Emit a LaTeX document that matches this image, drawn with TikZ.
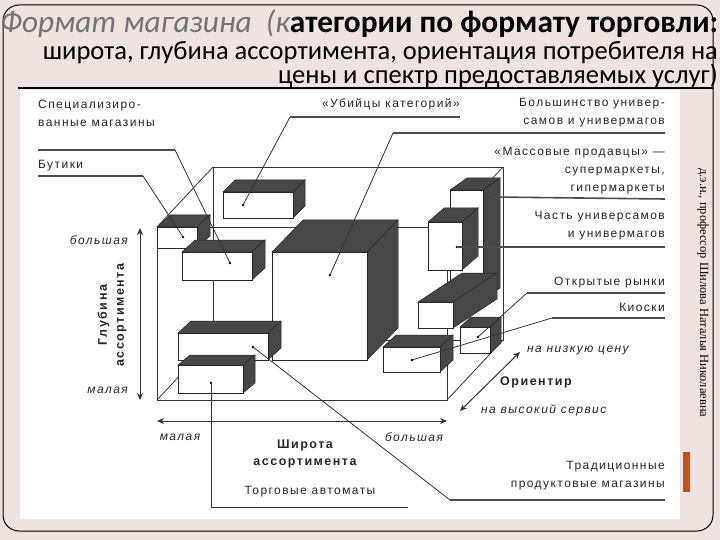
\documentclass[tikz,border=0pt]{standalone}
\usepackage{fontspec}
\usepackage{graphicx}
\setmainfont{Liberation Sans}
\newfontfamily\hdr{Carlito}
\newfontfamily\srf{Liberation Serif}
\newfontfamily\lab[LetterSpace=12]{Liberation Sans}
\usetikzlibrary{arrows.meta}
\definecolor{pinkbg}{HTML}{EEE3E1}
\definecolor{bar}{HTML}{C9521B}
\tikzset{
  lbl/.style={font=\lab\fontsize{12}{18}\selectfont, text=black!85, inner sep=0pt},
  axl/.style={font=\lab\fontsize{12}{18}\selectfont\itshape, text=black!85, inner sep=0pt},
  bld/.style={font=\lab\fontsize{12.5}{17}\selectfont\bfseries, text=black!85, inner sep=0pt, align=center},
  lead/.style={draw=black!80, line width=0.8pt},
  ulin/.style={draw=black!70, line width=1.6pt},
  wire/.style={draw=black!80, line width=0.8pt},
  axis/.style={draw=black!80, line width=1pt, {Stealth[length=7pt,width=6pt]}-{Stealth[length=7pt,width=6pt]}},
  darkf/.style={fill=black!72, draw=black!85, line width=0.5pt},
  frontf/.style={fill=white, draw=black!85, line width=0.8pt},
}
% cube: x1 y1 x2 y2 dx dy (pixel coords, offset up-right)
\newcommand\cub[6]{%
  \path[darkf] (#1,#2) -- (#1+#5,#2-#6) -- (#3+#5,#2-#6) -- (#3,#2) -- cycle;
  \path[darkf] (#3,#2) -- (#3+#5,#2-#6) -- (#3+#5,#4-#6) -- (#3,#4) -- cycle;
  \path[frontf] (#1,#2) rectangle (#3,#4);
}
\begin{document}
\begin{tikzpicture}[x=1pt,y=-1pt]
\useasboundingbox (0,0) rectangle (720,540);
\fill[pinkbg] (0,0) rectangle (720,540);
\draw[black, line width=1pt, rounded corners=16pt] (3,5) rectangle (713,531);
\fill[white] (20,90) rectangle (680,519);
\draw[black, line width=1.2pt] (18,88) -- (713,88);
\fill[bar] (683,452) rectangle (690,492);
% header
\node[anchor=base west, inner sep=0pt] (t1) at (0,33) {\resizebox{718pt}{!}{\hdr\fontsize{30}{32}\selectfont\textcolor{black!55}{\itshape Формат магазина\ \ (к}\textbf{атегории по формату торговли:}}};
\node[anchor=base east, inner sep=0pt] (t2) at (718,60) {\hdr\fontsize{26.5}{30}\selectfont широта, глубина ассортимента, ориентация потребителя на};
\node[anchor=base east, inner sep=0pt] (t3) at (718,84) {\hdr\fontsize{26.5}{30}\selectfont цены и спектр предоставляемых услуг)};
\node[rotate=-90, anchor=west, inner sep=0pt] (auth) at (703,168) {\srf\fontsize{12.5}{14}\selectfont д.э.н., профессор Шилова Наталья Николаевна};
% wireframe
\draw[wire] (213,167) rectangle (503,340);
\draw[wire] (157,227) -- (213,167) (447,227) -- (503,167) (447,400) -- (503,340) (157,400) -- (213,340);
\draw[wire] (157,227) rectangle (447,400);
% cubes
\cub{223}{192}{293}{218}{12}{12}
\cub{157}{227}{197}{248}{13}{12}
\cub{182}{252}{252}{280}{13}{12}
\cub{272}{252}{367}{360}{31}{32}
\cub{178}{333}{268}{360}{13}{12}
\cub{178}{365}{243}{393}{12}{10}
\cub{450}{190}{483}{300}{17}{12}
\cub{418}{302}{453}{328}{44}{29}
\cub{428}{222}{462}{270}{16}{14}
\cub{460}{327}{490}{353}{11}{10}
\cub{383}{347}{440}{372}{13}{12}
% dots
\coordinate (d1) at (243,205);
\coordinate (d2) at (183,237);
\coordinate (d3) at (230,263);
\coordinate (d4) at (330,275);
\coordinate (d5) at (253,347);
\coordinate (d6) at (211,383);
\coordinate (d7) at (457,247);
\coordinate (d8) at (478,337);
\coordinate (d9) at (412,360);
\coordinate (d10) at (493,197);
\foreach \q in {d1,d2,d3,d4,d5,d6,d7,d8,d9} {\fill[black] (\q) circle (1.4pt);}
% labels
\node[lbl, anchor=north west, align=left] (spec) at (38,100) {Специализиро-\\ванные магазины};
\coordinate (sp) at (175,150); \coordinate (sp0) at (38,150);
\draw[ulin] (sp0) -- (sp);
\draw[lead] (sp) -- (d3);
\node[lbl, anchor=north west] (but) at (38,160) {Бутики};
\coordinate (bu) at (143,176); \coordinate (bu0) at (38,176);
\draw[ulin] (bu0) -- (bu);
\draw[lead] (bu) -- (d2);
\node[lbl, anchor=north east] (kil) at (460,98) {«Убийцы категорий»};
\coordinate (ki) at (290,117); \coordinate (ki0) at (460,117);
\draw[ulin] (ki) -- (ki0);
\draw[lead] (ki) -- (d1);
\node[lbl, anchor=north east, align=right] (maj) at (665,98) {Большинство универ-\\самов и универмагов};
\coordinate (mj) at (393,133); \coordinate (mj0) at (665,133);
\draw[ulin] (mj) -- (mj0);
\draw[lead] (mj) -- (d4);
\node[lbl, anchor=north east, align=right] (mass) at (665,147) {«Массовые продавцы» —\\супермаркеты,\\гипермаркеты};
\coordinate (ma0) at (665,199);
\draw[ulin] (d10) -- (ma0);
\node[lbl, anchor=north east, align=right] (part) at (665,211) {Часть универсамов\\и универмагов};
\coordinate (pa0) at (665,247);
\draw[ulin] (d7) -- (pa0);
\node[lbl, anchor=north east] (open) at (665,277) {Открытые рынки};
\coordinate (op) at (527,293); \coordinate (op0) at (665,293);
\draw[ulin] (op) -- (op0);
\draw[lead] (op) -- (d8);
\node[lbl, anchor=north east] (kio) at (665,303) {Киоски};
\coordinate (ko) at (552,318); \coordinate (ko0) at (665,318);
\draw[ulin] (ko) -- (ko0);
\draw[lead] (ko) -- (d9);
\node[lbl, anchor=north east, align=right] (trad) at (665,461) {Традиционные\\продуктовые магазины};
\coordinate (tr) at (450,500); \coordinate (tr0) at (665,500);
\draw[ulin] (tr) -- (tr0);
\draw[lead] (d5) -- (tr);
\node[lbl] (avt) at (310,492) {Торговые автоматы};
\coordinate (av) at (408,507); \coordinate (avc) at (211,507);
\draw[lead] (d6) -- (avc) -- (av);
% axes
\coordinate (ya) at (140,228); \coordinate (yb) at (140,400);
\draw[axis] (yb) -- (ya);
\node[axl, anchor=east] (ybig) at (128,240) {большая};
\node[axl, anchor=east] (ysm) at (128,390) {малая};
\node[bld, rotate=90] (ydep) at (112,315) {Глубина\\ассортимента};
\coordinate (xa) at (157,421); \coordinate (xb) at (447,421);
\draw[axis] (xa) -- (xb);
\node[axl] (xsm) at (180,437) {малая};
\node[axl] (xbig) at (414,437) {большая};
\node[bld] (xw) at (305,454) {Широта\\ассортимента};
\coordinate (oa) at (460,411); \coordinate (ob) at (520,352);
\draw[axis] (oa) -- (ob);
\node[axl, anchor=west] (olo) at (527,351) {на низкую цену};
\node[bld, anchor=west] (oor) at (500,382) {Ориентир};
\node[axl, anchor=west] (ohi) at (481,410) {на высокий сервис};
\end{tikzpicture}
\end{document}
